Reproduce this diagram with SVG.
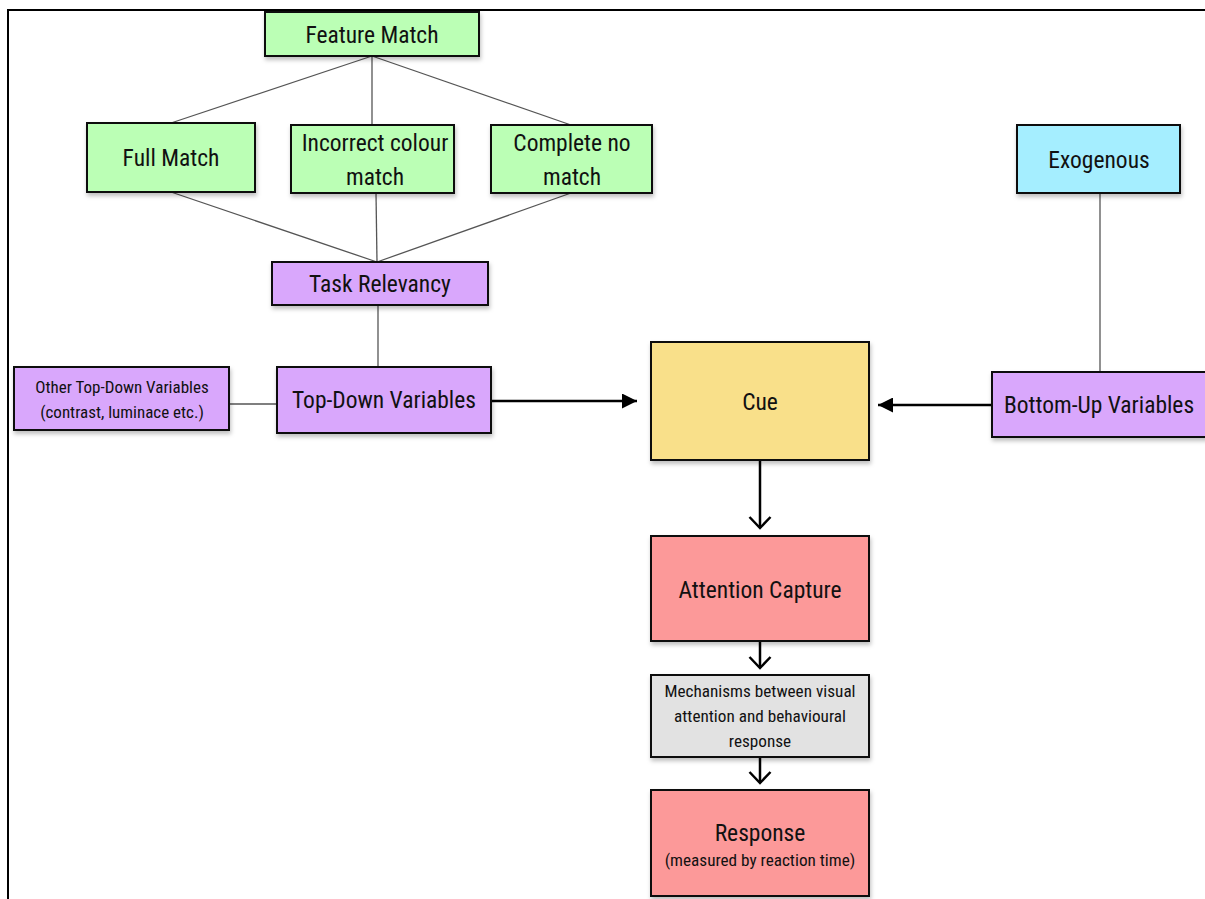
<svg xmlns="http://www.w3.org/2000/svg" width="1205" height="899" viewBox="0 0 1205 899">
<style>
.box{stroke:#111;stroke-width:2;filter:url(#sh)}
.g{fill:#bbffb5}.p{fill:#d9a7fc}.y{fill:#f9e08a}.b{fill:#a5eeff}.r{fill:#fc9999}.gr{fill:#e2e2e2}
text{font-family:"Liberation Sans Narrow","Roboto Condensed","Liberation Sans",sans-serif;fill:#111;text-anchor:middle}
.t20{font-size:23.5px}.t15{font-size:17.2px}.t14{font-size:17px}
.ln{stroke:#555;stroke-width:1.3;fill:none}
.ar{stroke:#000;stroke-width:2.5;fill:none}
</style>
<defs>
<filter id="sh" x="-10%" y="-10%" width="130%" height="140%">
<feDropShadow dx="1" dy="3" stdDeviation="2" flood-color="#000" flood-opacity="0.25"/>
</filter>
<marker id="tri" viewBox="0 0 10 10" refX="10" refY="5" markerWidth="6" markerHeight="6" orient="auto" markerUnits="strokeWidth">
<path d="M0,0 L10,5 L0,10 z" fill="#000"/>
</marker>
<marker id="vee" viewBox="0 0 14 24" refX="12.5" refY="12" markerWidth="14" markerHeight="24" orient="auto" markerUnits="userSpaceOnUse">
<path d="M1.5,1.5 L12.5,12 L1.5,22.5" fill="none" stroke="#000" stroke-width="2.5"/>
</marker>
</defs>
<rect width="1205" height="899" fill="#fff"/>
<path d="M8,899 V10 H1205" fill="none" stroke="#000" stroke-width="2"/>
<g id="connectors">
<line class="ln" x1="372" y1="56" x2="171" y2="123"/>
<line class="ln" x1="372" y1="56" x2="372" y2="125"/>
<line class="ln" x1="372" y1="56" x2="571" y2="125"/>
<line class="ln" x1="171" y1="192" x2="377" y2="262"/>
<line class="ln" x1="376" y1="193" x2="377" y2="262"/>
<line class="ln" x1="571" y1="193" x2="377" y2="262"/>
<line class="ln" x1="378" y1="305" x2="378" y2="367"/>
<line class="ln" x1="229" y1="404" x2="277" y2="404"/>
<line class="ln" x1="1100" y1="193" x2="1100" y2="372"/>
<line class="ar" x1="491" y1="401" x2="637" y2="401" marker-end="url(#tri)"/>
<line class="ar" x1="992" y1="405" x2="878" y2="405" marker-end="url(#tri)"/>
<line class="ar" x1="760" y1="460" x2="760" y2="528" marker-end="url(#vee)"/>
<line class="ar" x1="760" y1="641" x2="760" y2="668" marker-end="url(#vee)"/>
<line class="ar" x1="760" y1="757" x2="760" y2="783" marker-end="url(#vee)"/>
</g>
<g id="feature-match"><rect class="box g" x="265" y="12" width="214" height="44"/><text class="t20" x="372" y="43">Feature Match</text></g>
<g id="full-match"><rect class="box g" x="87" y="123" width="168" height="69"/><text class="t20" x="171" y="166">Full Match</text></g>
<g id="incorrect-colour"><rect class="box g" x="291" y="125" width="163" height="68"/><text class="t20" x="375" y="151">Incorrect colour</text><text class="t20" x="375" y="185">match</text></g>
<g id="complete-no-match"><rect class="box g" x="491" y="125" width="161" height="68"/><text class="t20" x="572" y="151">Complete no</text><text class="t20" x="572" y="185">match</text></g>
<g id="task-relevancy"><rect class="box p" x="272" y="262" width="216" height="43"/><text class="t20" x="380" y="292">Task Relevancy</text></g>
<g id="other-top-down"><rect class="box p" x="14" y="367" width="215" height="63"/><text class="t14" x="122" y="393">Other Top-Down Variables</text><text class="t14" x="122" y="418">(contrast, luminace etc.)</text></g>
<g id="top-down"><rect class="box p" x="277" y="367" width="214" height="66"/><text class="t20" x="384" y="408">Top-Down Variables</text></g>
<g id="cue"><rect class="box y" x="651" y="342" width="218" height="118"/><text class="t20" x="760" y="410">Cue</text></g>
<g id="exogenous"><rect class="box b" x="1017" y="125" width="163" height="68"/><text class="t20" x="1099" y="168">Exogenous</text></g>
<g id="bottom-up"><rect class="box p" x="992" y="372" width="220" height="65"/><text class="t20" x="1099" y="413">Bottom-Up Variables</text></g>
<g id="attention-capture"><rect class="box r" x="651" y="536" width="218" height="105"/><text class="t20" x="760" y="598">Attention Capture</text></g>
<g id="mechanisms"><rect class="box gr" x="651" y="675" width="218" height="82"/><text class="t15" x="760" y="697">Mechanisms between visual</text><text class="t15" x="760" y="722">attention and behavioural</text><text class="t15" x="760" y="747">response</text></g>
<g id="response"><rect class="box r" x="651" y="790" width="218" height="106"/><text class="t20" x="760" y="841">Response</text><text class="t15" x="760" y="866">(measured by reaction time)</text></g>
</svg>
